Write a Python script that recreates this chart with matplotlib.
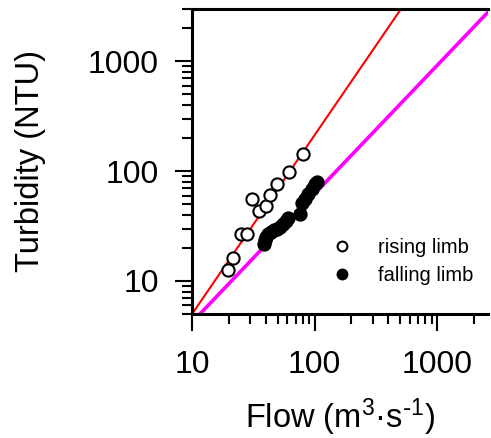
import numpy as np
import matplotlib
matplotlib.use("Agg")
import matplotlib.pyplot as plt
from matplotlib.ticker import LogLocator, NullFormatter, FixedFormatter, FixedLocator

plt.rcParams["font.family"] = ["Liberation Sans", "DejaVu Sans"]
plt.rcParams["mathtext.default"] = "regular"

# rising limb (open circles)
rise_flow = [19.7, 21.7, 24.9, 28.2, 30.9, 35.1, 40.0, 43.1, 49.7, 61.8, 80.9]
rise_turb = [12.5, 16.1, 26.5, 26.5, 56.1, 43.0, 48.1, 60.6, 76.4, 98.9, 143.5]

# falling limb (filled circles)
fall_flow = [38.5, 39.2, 40.0, 41.5, 43.9, 46.4, 49.1, 51.9, 54.9, 58.1, 60.3,
             75.5, 78.3, 82.9, 87.8, 94.6, 100.0, 103.8]
fall_turb = [21.8, 23.7, 25.2, 26.9, 28.0, 29.2, 29.9, 31.1, 33.2, 35.3, 37.6,
             40.9, 51.5, 56.1, 62.4, 69.2, 76.9, 80.2]

# power-law fits  T = a * Q^b
rise_fit = (0.117, 1.63)
fall_fit = (0.284, 1.17)

xlim = (10, 2600)
ylim = (5, 3000)

W, H = 491, 438
fig = plt.figure(figsize=(W / 100, H / 100), dpi=100)
ax = fig.add_axes([192 / W, 1 - 314 / H, (488 - 192) / W, (314 - 9) / H])
ax.set_xscale("log"); ax.set_yscale("log")
ax.set_xlim(*xlim); ax.set_ylim(*ylim)

q = np.logspace(np.log10(xlim[0]), np.log10(xlim[1]), 200)
ax.plot(q, rise_fit[0] * q ** rise_fit[1], color="#ff0000", lw=1.5, zorder=2)
ax.plot(q, fall_fit[0] * q ** fall_fit[1], color="#ff00ff", lw=2.6, zorder=2)

ax.plot(rise_flow, rise_turb, "o", mfc="white", mec="black", ms=8.8, mew=1.5,
        ls="none", label="rising limb", zorder=3)
ax.plot(fall_flow, fall_turb, "o", mfc="black", mec="black", ms=8.8, mew=1.5,
        ls="none", label="falling limb", zorder=3)

for s in ("left", "bottom", "top"):
    ax.spines[s].set_linewidth(2.2)
ax.spines["right"].set_visible(False)

ax.xaxis.set_major_locator(FixedLocator([10, 100, 1000]))
ax.xaxis.set_major_formatter(FixedFormatter(["10", "100", "1000"]))
ax.yaxis.set_major_locator(FixedLocator([10, 100, 1000]))
ax.yaxis.set_major_formatter(FixedFormatter(["10", "100", "1000"]))
ax.xaxis.set_minor_locator(LogLocator(base=10, subs=np.arange(2, 10)))
ax.yaxis.set_minor_locator(LogLocator(base=10, subs=np.arange(2, 10)))
ax.xaxis.set_minor_formatter(NullFormatter())
ax.yaxis.set_minor_formatter(NullFormatter())
ax.tick_params(which="major", length=12, width=1.5, labelsize=23, pad=12,
               top=False, right=False)
ax.tick_params(which="minor", length=7, width=1.5, top=False, right=False)
ax.tick_params(axis="x", which="major", pad=14)

ax.set_ylabel("Turbidity (NTU)", fontsize=23.5, labelpad=30)
ax.set_xlabel(r"Flow (m$^3$·s$^{\text{-}1}$)", fontsize=23.5, labelpad=12)

ax.legend(loc="center left", bbox_to_anchor=(0.473, 0.172), frameon=False,
          fontsize=14.5, handlelength=1.0, handletextpad=1.3, labelspacing=0.45,
          borderpad=0, borderaxespad=0, markerscale=0.8)

fig.savefig("out.png", dpi=100)
